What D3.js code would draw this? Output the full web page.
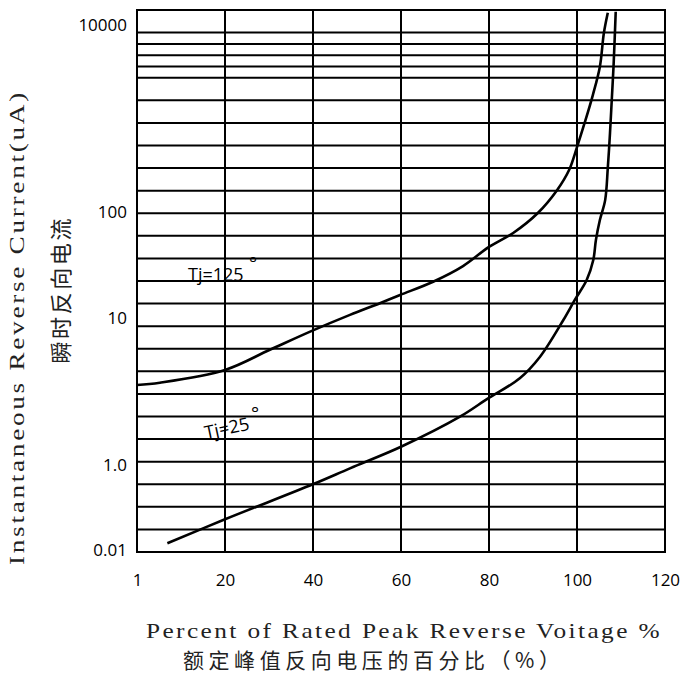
<!DOCTYPE html>
<html>
<head>
<meta charset="utf-8">
<script src="https://cdn.jsdelivr.net/npm/d3@7"></script>
<style>
  html, body { margin: 0; padding: 0; background: #fff; }
  svg { display: block; }
</style>
</head>
<body>
<svg id="chart" width="681" height="675"></svg>
<script>
// ---- data ----
const xTickValues = [0, 20, 40, 60, 80, 100, 120];
const xTickLabels = ["1", "20", "40", "60", "80", "100", "120"];
const yTickValues = [10000, 100, 10, 1, 0.01];
const yTickLabels = ["10000", "100", "10", "1.0", "0.01"];
// horizontal grid rows (in grid units, 0 = bottom, 24 = top)
const gridRows = [1,2,3,4,5,6,7,8,9,10,11,12,13,14,15,16,17,18,19,20,21,21.5,22,22.5,23];

// Tj=125 curve: percent of rated voltage, reverse current (uA)
const tj125X = [0, 5.2, 20, 30.2, 40, 48.4, 55.2, 59.8, 67.3, 74.1, 80, 85.5, 91.1, 95.5, 98.2, 100, 101.8, 103.6, 105.2, 106.1, 107];
const tj125Y = [3.5, 3.63, 4.43, 6.08, 8.24, 10.7, 13.8, 16.5, 22.0, 30.9, 46.8, 63.4, 97.8, 172, 281, 495, 918, 1782, 3580, 8150, 13500];
// Tj=25 curve
const tj25X = [6.9, 20, 40.1, 48.4, 60, 73.4, 79.8, 87, 91.6, 96.9, 99.5, 102.2, 103.7, 104.3, 105.2, 106.4, 107, 107.5, 107.9, 108.3, 108.8];
const tj25Y = [0.0144, 0.0527, 0.357, 0.835, 1.33, 2.13, 2.84, 3.89, 5.45, 9.69, 14.8, 22.8, 35.2, 54.5, 84.1, 134, 296, 700, 1578, 3580, 13870];

const xTitle = "Percent of Rated Peak Reverse Voitage %";
const xTitleCN = "额定峰值反向电压的百分比（%）";
const yTitle = "Instantaneous Reverse Current(uA)";
const yTitleCN = "瞬时反向电流";

// ---- layout ----
const pLeft = 137, pRight = 665, pTop = 10, pBottom = 552;
const svg = d3.select("#chart");

const x = d3.scaleLinear().domain([0, 120]).range([pLeft, pRight]);
const y = d3.scaleLog().domain([0.01, 1, 10, 100, 10000]).range([550, 465, 318, 212, 25]);
const g = d3.scaleLinear().domain([0, 24]).range([pBottom, pTop]);

const black = "#000";

// horizontal grid
svg.append("g").selectAll("line").data(gridRows).join("line")
  .attr("x1", pLeft).attr("x2", pRight)
  .attr("y1", d => g(d)).attr("y2", d => g(d))
  .attr("stroke", black).attr("stroke-width", 2);

// vertical grid
svg.append("g").selectAll("line").data(xTickValues).join("line")
  .attr("x1", d => x(d)).attr("x2", d => x(d))
  .attr("y1", pTop).attr("y2", pBottom)
  .attr("stroke", black).attr("stroke-width", 2);

// frame
svg.append("rect")
  .attr("x", pLeft).attr("y", pTop)
  .attr("width", pRight - pLeft).attr("height", pBottom - pTop)
  .attr("fill", "none").attr("stroke", black).attr("stroke-width", 2);

// axes (labels only)
const xAxis = d3.axisBottom(x).tickValues(xTickValues)
  .tickFormat((d, i) => xTickLabels[i]).tickSize(0).tickPadding(22);
const xg = svg.append("g").attr("transform", `translate(0,${pBottom})`).call(xAxis);
xg.select(".domain").remove();
xg.selectAll("text").attr("font-family", "'Open Sans', sans-serif").attr("font-size", 17).attr("fill", black);

const yAxis = d3.axisLeft(y).tickValues(yTickValues)
  .tickFormat((d, i) => yTickLabels[i]).tickSize(0).tickPadding(10);
const yg = svg.append("g").attr("transform", `translate(${pLeft},0)`).call(yAxis);
yg.select(".domain").remove();
yg.selectAll("text").attr("font-family", "'Open Sans', sans-serif").attr("font-size", 17).attr("fill", black);

// curves
const line = d3.line().x(d => x(d[0])).y(d => y(d[1])).curve(d3.curveCatmullRom.alpha(0.5));
const s125 = tj125X.map((v, i) => [v, tj125Y[i]]);
const s25 = tj25X.map((v, i) => [v, tj25Y[i]]);
[s125, s25].forEach(s => {
  svg.append("path").datum(s).attr("d", line)
    .attr("fill", "none").attr("stroke", black).attr("stroke-width", 2.6)
    .attr("stroke-linejoin", "round");
});

// curve labels
const lblFont = "'Open Sans', sans-serif";
svg.append("text").attr("x", 188).attr("y", 281)
  .attr("font-family", lblFont).attr("font-size", 18).attr("fill", black)
  .text("Tj=125");
svg.append("text").attr("x", 249).attr("y", 270)
  .attr("font-family", lblFont).attr("font-size", 19).attr("fill", black)
  .text("°");
svg.append("text").attr("transform", "translate(206,439) rotate(-12)")
  .attr("font-family", lblFont).attr("font-size", 18).attr("fill", black)
  .text("Tj=25");
svg.append("text").attr("x", 251).attr("y", 420)
  .attr("font-family", lblFont).attr("font-size", 19).attr("fill", black)
  .text("°");

// axis titles
const serif = "'Liberation Serif', 'DejaVu Serif', serif";
const cjk = "'Noto Sans CJK SC', sans-serif";
svg.append("text").attr("x", 146).attr("y", 638)
  .attr("font-family", serif).attr("font-size", 21).attr("fill", "#222")
  .attr("letter-spacing", 2)
  .attr("textLength", 516).attr("lengthAdjust", "spacingAndGlyphs")
  .text(xTitle);
svg.append("text").attr("x", 183).attr("y", 668)
  .attr("font-family", cjk).attr("font-size", 21).attr("fill", "#222")
  .attr("textLength", 377).attr("lengthAdjust", "spacing")
  .text(xTitleCN);

svg.append("text").attr("transform", "translate(24,565) rotate(-90)")
  .attr("font-family", serif).attr("font-size", 20).attr("fill", "#222")
  .attr("letter-spacing", 2)
  .attr("textLength", 475).attr("lengthAdjust", "spacingAndGlyphs")
  .text(yTitle);
svg.append("text").attr("transform", "translate(69,291) rotate(-90)")
  .attr("text-anchor", "middle")
  .attr("font-family", cjk).attr("font-size", 22).attr("fill", "#222")
  .attr("textLength", 145).attr("lengthAdjust", "spacing")
  .text(yTitleCN);
</script>
</body>
</html>
